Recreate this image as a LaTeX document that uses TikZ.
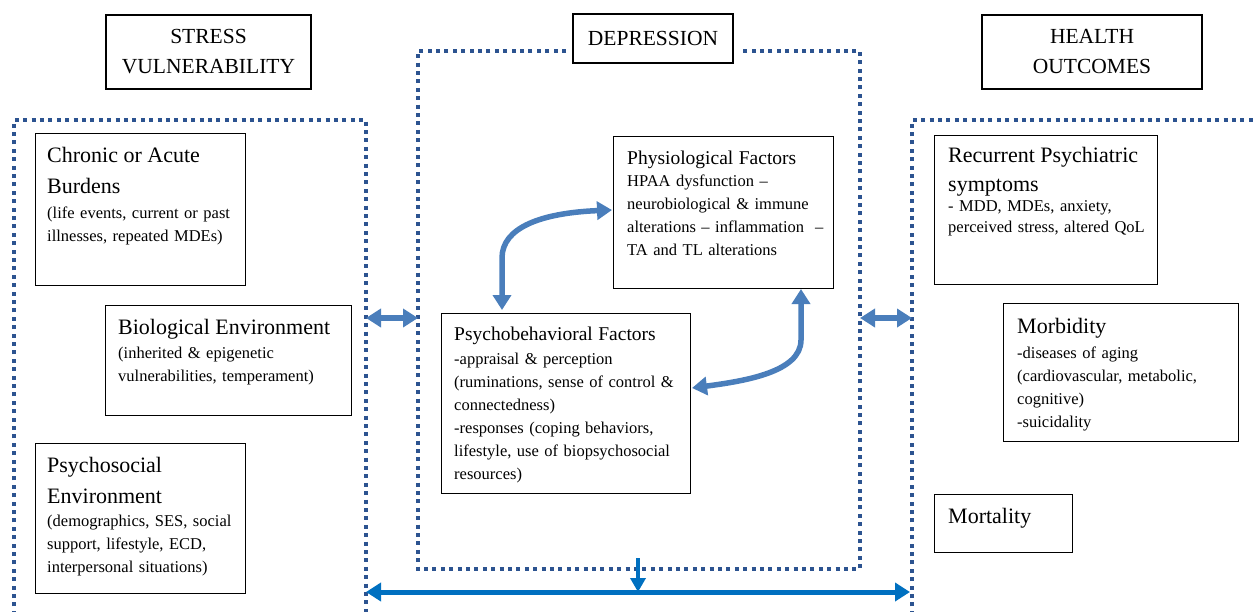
\documentclass[tikz,border=0pt]{standalone}
\usepackage{fontspec}
\setmainfont{Liberation Serif}
\usetikzlibrary{arrows.meta}
\definecolor{dotblue}{HTML}{2C5390}
\definecolor{arrblue}{HTML}{4A7EBB}
\definecolor{botblue}{HTML}{0070C0}
\newcommand{\Tbig}{\fontsize{22}{23}\selectfont}
\newcommand{\Tmid}{\fontsize{19.5}{23}\selectfont}
\begin{document}
\begin{tikzpicture}[x=1pt,y=-1pt,
  box/.style={draw=black, line width=1.1pt, fill=white, inner sep=0pt, anchor=north west},
  hdr/.style={draw=black, line width=1.1pt, fill=white, inner sep=0pt, align=center, font=\fontsize{21.5}{30}\selectfont},
  txt/.style={anchor=base west, inner sep=0pt, text width=#1, align=left, font=\fontsize{16.5}{23}\selectfont},
  cont/.style={draw=dotblue, line width=3.3pt, dash pattern=on 4pt off 4.4pt},
  fat/.style={draw=arrblue, line width=5.5pt, {Triangle[width=18pt,length=15pt]}-{Triangle[width=18pt,length=15pt]}},
  botarrow/.style={draw=botblue, line width=5pt, {Triangle[width=18pt,length=15pt]}-{Triangle[width=18pt,length=15pt]}},
  downarrow/.style={draw=botblue, line width=4pt, -{Triangle[width=15pt,length=14pt]}}
]
\useasboundingbox (0,0) rectangle (1253,611);

% dotted containers
\draw[cont] (14,640) -- (14,120) -- (366,120) -- (366,640);
\draw[cont] (566,51) -- (418,51) -- (418,569) -- (860,569) -- (860,51) -- (740,51);
\draw[cont] (912,640) -- (912,120) -- (1270,120);

% headers
\node[hdr, minimum width=205pt, minimum height=74pt] (sv) at (208.5,52) {STRESS\\VULNERABILITY};
\node[hdr, minimum width=160pt, minimum height=49pt] (dep) at (653,38.5) {DEPRESSION};
\node[hdr, minimum width=220pt, minimum height=74pt] (ho) at (1092,52) {HEALTH\\OUTCOMES};

% left boxes
\node[box, minimum width=210pt, minimum height=152pt] (chr) at (35,133) {};
\node[txt=195pt] (chrT) at (47,162) {{\Tbig Chronic or Acute\\[8pt]Burdens\\[2.5pt]}(life events, current or past\\illnesses, repeated MDEs)};

\node[box, minimum width=246pt, minimum height=110pt] (bio) at (105,305) {};
\node[txt=230pt] (bioT) at (118,334) {{\Tbig Biological Environment\\[1.5pt]}(inherited \& epigenetic\\vulnerabilities, temperament)};

\node[box, minimum width=210pt, minimum height=150pt] (psy) at (35,443) {};
\node[txt=195pt] (psyT) at (47,472) {{\Tbig Psychosocial\\[8pt]Environment\\[0.5pt]}(demographics, SES, social\\support, lifestyle, ECD,\\interpersonal situations)};

% middle boxes
\node[box, minimum width=220pt, minimum height=152pt] (phy) at (613,136) {};
\node[txt=210pt] (phyT) at (627,164) {{\Tmid Physiological Factors\\[-1pt]}HPAA dysfunction –\\neurobiological \& immune\\alterations – inflammation\ \ –\\TA and TL alterations};

\node[box, minimum width=249pt, minimum height=180pt] (pb) at (441,313) {};
\node[txt=235pt] (pbT) at (454,340) {{\Tmid Psychobehavioral Factors\\[1pt]}-appraisal \& perception\\(ruminations, sense of control \&\\connectedness)\\-responses (coping behaviors,\\lifestyle, use of biopsychosocial\\resources)};

% right boxes
\node[box, minimum width=223pt, minimum height=149pt] (rec) at (934,135) {};
\node[txt=215pt, font=\fontsize{16.5}{21}\selectfont] (recT) at (948,162) {{\Tbig Recurrent Psychiatric\\[6pt]symptoms\\[-0.5pt]}- MDD, MDEs, anxiety,\\perceived stress, altered QoL};

\node[box, minimum width=235pt, minimum height=138pt] (mor) at (1003,303) {};
\node[txt=220pt] (morT) at (1017,333) {{\Tbig Morbidity\\[2.5pt]}-diseases of aging\\(cardiovascular, metabolic,\\cognitive)\\-suicidality};

\node[box, minimum width=138pt, minimum height=58pt] (mort) at (934,494) {};
\node[txt=120pt] (mortT) at (948,523) {\Tbig Mortality};

% connectors
\coordinate (lc) at (366,318);
\coordinate (mcl) at (418,318);
\coordinate (mcr) at (860,318);
\coordinate (rc) at (912,318);
\draw[fat] (lc) -- (mcl);
\draw[fat] (mcr) -- (rc);

\coordinate (pbtop) at (502,310);
\coordinate (phyleft) at (612,210);
\draw[fat] (pbtop) -- (502,258) .. controls (502,228) and (540,213) .. (phyleft);

\coordinate (phybot) at (801,289);
\coordinate (pbright) at (692,388);
\draw[fat] (phybot) -- (801,340) .. controls (801,372) and (745,381) .. (pbright);

\coordinate (bl) at (366,592);
\coordinate (br) at (910,592);
\coordinate (bm) at (638,592);
\coordinate (ds) at (638,558);
\draw[botarrow] (bl) -- (br);
\draw[downarrow] (ds) -- (bm);
\end{tikzpicture}
\end{document}
